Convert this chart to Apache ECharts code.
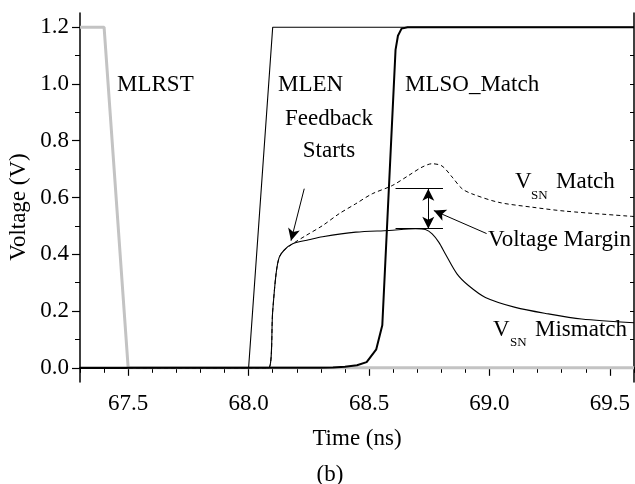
<!DOCTYPE html>
<html>
<head>
<meta charset="utf-8">
<script src="https://cdn.jsdelivr.net/npm/echarts@6/dist/echarts.min.js"></script>
<style>
  html, body { margin: 0; padding: 0; background: #fff; }
  #chart { width: 635px; height: 484px; }
</style>
</head>
<body>
<div id="chart"></div>
<script>
// time axis (ns) and voltage readings for each trace
var mlrstT = [67.3, 67.4, 67.5, 69.6];
var mlrstV = [1.2, 1.2, 0, 0];

var mlenT = [67.3, 68.0, 68.1, 69.6];
var mlenV = [0, 0, 1.2, 1.2];

var mlsoT = [67.3, 68.3, 68.35, 68.4, 68.45, 68.49, 68.53, 68.555, 68.61, 68.62, 68.635, 68.66, 69.6];
var mlsoV = [0, 0, 0.001, 0.004, 0.009, 0.02, 0.065, 0.15, 1.12, 1.17, 1.195, 1.2, 1.2];

var misT = [67.3, 68.083, 68.1, 68.114, 68.127, 68.148, 68.183, 68.25, 68.307, 68.445, 68.583, 68.693, 68.734, 68.762, 68.79, 68.817, 68.865, 68.914, 68.983, 69.107, 69.245, 69.382, 69.6];
var misV = [0, 0, 0.2, 0.331, 0.389, 0.415, 0.437, 0.451, 0.462, 0.478, 0.484, 0.49, 0.487, 0.472, 0.442, 0.401, 0.331, 0.289, 0.248, 0.213, 0.19, 0.172, 0.159];

var matT = [67.3, 68.083, 68.1, 68.114, 68.127, 68.148, 68.183, 68.238, 68.307, 68.376, 68.445, 68.513, 68.596, 68.665, 68.72, 68.762, 68.803, 68.845, 68.886, 68.927, 69.038, 69.176, 69.314, 69.6];
var matV = [0, 0, 0.2, 0.331, 0.389, 0.415, 0.437, 0.466, 0.501, 0.543, 0.578, 0.613, 0.642, 0.678, 0.707, 0.719, 0.711, 0.672, 0.631, 0.613, 0.583, 0.566, 0.552, 0.533];

// annotation marks: [t0, v0, t1, v1]
var marginTop = [68.61, 0.631, 68.807, 0.631];
var marginBottom = [68.61, 0.49, 68.807, 0.49];
var marginArrow = [68.746, 0.49, 68.746, 0.631];
var feedbackArrow = [68.231, 0.631, 68.176, 0.448];
var marginLabelArrow = [68.988, 0.473, 68.769, 0.554];

// ticks
var xMajor = [67.5, 68.0, 68.5, 69.0, 69.5];
var xMinor = [67.3, 67.4, 67.5, 67.6, 67.7, 67.8, 67.9, 68.0, 68.1, 68.2, 68.3, 68.4, 68.5, 68.6, 68.7, 68.8, 68.9, 69.0, 69.1, 69.2, 69.3, 69.4, 69.5, 69.6];
var yMajor = [0, 0.2, 0.4, 0.6, 0.8, 1.0, 1.2];
var yMinor = [0, 0.1, 0.2, 0.3, 0.4, 0.5, 0.6, 0.7, 0.8, 0.9, 1.0, 1.1, 1.2];

var serif = "'Liberation Serif', 'Times New Roman', serif";
var fs = 23;

function pairs(t, v) {
  return t.map(function (x, i) { return [x, v[i]]; });
}
function seg(a, startSym, endSym) {
  return [
    { coord: [a[0], a[1]], symbol: startSym },
    { coord: [a[2], a[3]], symbol: endSym }
  ];
}
function txt(x, y, s, size, align) {
  return {
    type: 'text', x: x, y: y, silent: true,
    style: { text: s, fontSize: size, fontFamily: serif, fill: '#000',
             align: align || 'left', verticalAlign: 'middle' }
  };
}

var chart = echarts.init(document.getElementById('chart'), null, { renderer: 'canvas' });

var yName = txt(19, 207, 'Voltage (V)', fs, 'center');
yName.rotation = Math.PI / 2;

var option = {
  animation: false,
  backgroundColor: '#fff',
  grid: { left: 80, right: 1, top: 13, bottom: 102 },
  xAxis: [
    {
      type: 'value', min: 67.3, max: 69.6, position: 'bottom',
      name: 'Time (ns)', nameLocation: 'middle', nameGap: 45,
      nameTextStyle: { fontSize: fs, fontFamily: serif, color: '#000' },
      axisLine: { show: true, lineStyle: { color: '#000', width: 1.5 } },
      axisTick: { show: true, customValues: xMajor, length: 8, lineStyle: { color: '#000', width: 1.2 } },
      axisLabel: { customValues: xMajor, margin: 10, fontSize: fs, fontFamily: serif, color: '#000',
                   formatter: function (v) { return v.toFixed(1); } },
      splitLine: { show: false }
    },
    {
      type: 'value', min: 67.3, max: 69.6, position: 'bottom',
      axisLine: { show: false },
      axisTick: { show: true, customValues: xMinor, length: 5, lineStyle: { color: '#000', width: 1 } },
      axisLabel: { show: false },
      splitLine: { show: false }
    },
    {
      type: 'value', min: 67.3, max: 69.6, position: 'top',
      axisLine: { show: true, lineStyle: { color: '#000', width: 1.5 } },
      axisTick: { show: true, inside: true, customValues: xMinor, length: 4, lineStyle: { color: '#000', width: 1 } },
      axisLabel: { show: false },
      splitLine: { show: false }
    }
  ],
  yAxis: [
    {
      type: 'value', min: -0.05, max: 1.25, position: 'left',
      axisLine: { show: true, lineStyle: { color: '#000', width: 1.5 } },
      axisTick: { show: true, customValues: yMajor, length: 8, lineStyle: { color: '#000', width: 1.2 } },
      axisLabel: { customValues: yMajor, margin: 11, fontSize: fs, fontFamily: serif, color: '#000',
                   formatter: function (v) { return v.toFixed(1); } },
      splitLine: { show: false }
    },
    {
      type: 'value', min: -0.05, max: 1.25, position: 'left',
      axisLine: { show: false },
      axisTick: { show: true, customValues: yMinor, length: 5, lineStyle: { color: '#000', width: 1 } },
      axisLabel: { show: false },
      splitLine: { show: false }
    },
    {
      type: 'value', min: -0.05, max: 1.25, position: 'right',
      axisLine: { show: true, lineStyle: { color: '#000', width: 1.5 } },
      axisTick: { show: true, inside: true, customValues: yMinor, length: 4, lineStyle: { color: '#000', width: 1 } },
      axisLabel: { show: false },
      splitLine: { show: false }
    }
  ],
  series: [
    {
      name: 'MLRST', type: 'line', data: pairs(mlrstT, mlrstV), showSymbol: false, z: 1,
      lineStyle: { color: '#c3c3c3', width: 3 }
    },
    {
      name: 'MLEN', type: 'line', data: pairs(mlenT, mlenV), showSymbol: false, z: 2,
      lineStyle: { color: '#000', width: 1.1 }
    },
    {
      name: 'VSN Match', type: 'line', data: pairs(matT, matV), showSymbol: false, smooth: 0.3, z: 2,
      lineStyle: { color: '#000', width: 1, type: [4, 3] }
    },
    {
      name: 'VSN Mismatch', type: 'line', data: pairs(misT, misV), showSymbol: false, smooth: 0.3, z: 3,
      lineStyle: { color: '#000', width: 1.1 },
      markLine: {
        silent: true, animation: false,
        symbolSize: [9, 12],
        label: { show: false },
        lineStyle: { color: '#000', width: 1, type: 'solid' },
        data: [
          seg(marginTop, 'none', 'none'),
          seg(marginBottom, 'none', 'none'),
          seg(marginArrow, 'arrow', 'arrow'),
          seg(feedbackArrow, 'none', 'arrow'),
          seg(marginLabelArrow, 'none', 'arrow')
        ]
      }
    },
    {
      name: 'MLSO_Match', type: 'line', data: pairs(mlsoT, mlsoV), showSymbol: false, z: 4,
      lineStyle: { color: '#000', width: 2 }
    }
  ],
  graphic: [
    yName,
    txt(117, 85, 'MLRST', fs),
    txt(278, 85, 'MLEN', fs),
    txt(405, 85, 'MLSO_Match', fs),
    txt(329, 119, 'Feedback', fs, 'center'),
    txt(329, 151, 'Starts', fs, 'center'),
    txt(515, 182, 'V', fs),
    txt(531, 196, 'SN', 13),
    txt(556, 182, 'Match', fs),
    txt(488, 240, 'Voltage Margin', fs),
    txt(493, 330, 'V', fs),
    txt(510, 343, 'SN', 13),
    txt(535, 330, 'Mismatch', fs),
    txt(330, 475, '(b)', fs, 'center')
  ]
};

chart.setOption(option);
window.onresize = function () {
  chart.resize();
};
</script>
</body>
</html>
